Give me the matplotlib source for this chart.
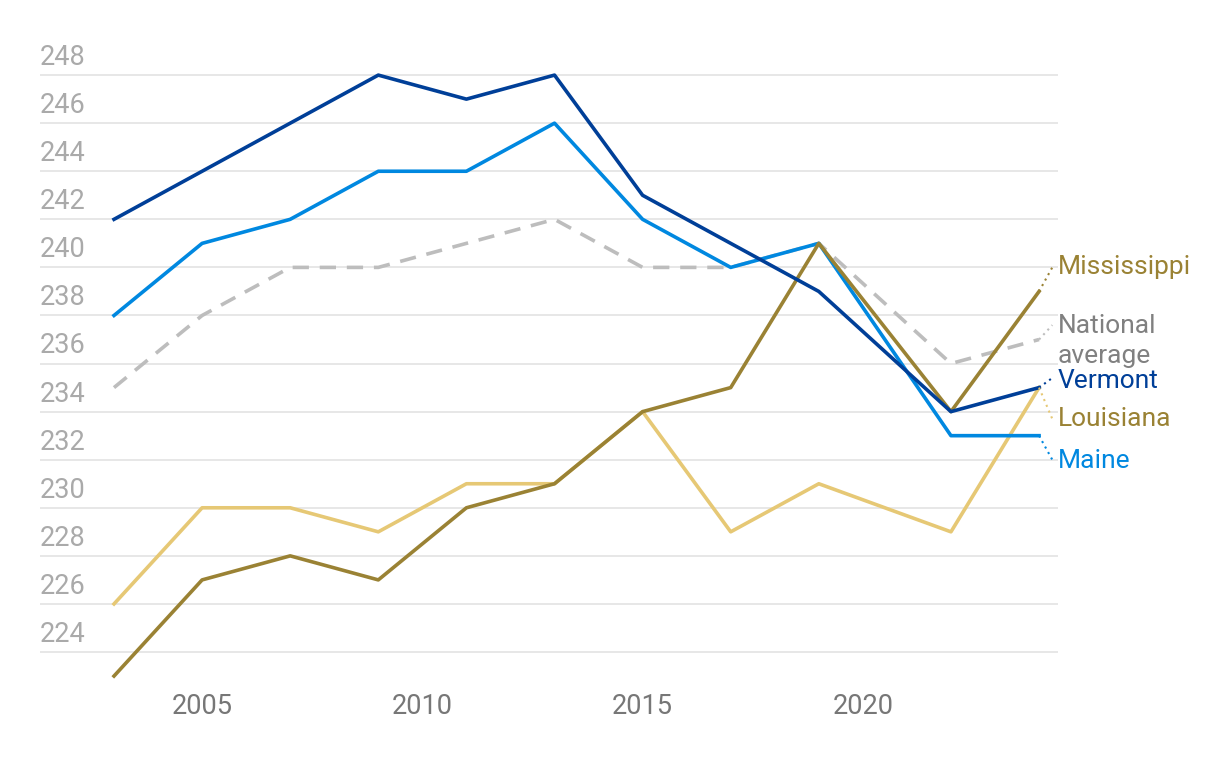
import matplotlib
matplotlib.use("Agg")
import matplotlib.pyplot as plt
from matplotlib.font_manager import fontManager

# NAEP-like scores by year
years = [2003, 2005, 2007, 2009, 2011, 2013, 2015, 2017, 2019, 2022, 2024]
vermont = [242, 244, 246, 248, 247, 248, 243, 241, 239, 234, 235]
maine = [238, 241, 242, 244, 244, 246, 242, 240, 241, 233, 233]
national = [235, 238, 240, 240, 241, 242, 240, 240, 241, 236, 237]
mississippi = [223, 227, 228, 227, 230, 231, 234, 235, 241, 234, 239]
louisiana = [226, 230, 230, 229, 231, 231, 234, 229, 231, 229, 235]

y_ticks = list(range(224, 250, 2))
x_ticks = [2005, 2010, 2015, 2020]

names = {f.name for f in fontManager.ttflist}
fam = [f for f in ["Liberation Sans Narrow", "Roboto", "DejaVu Sans"] if f in names]
plt.rcParams["font.family"] = fam

c_vt = "#003f98"
c_me = "#0088e0"
c_nat = "#bdbdbd"
c_ms = "#9a8234"
c_la = "#e6c875"

fig = plt.figure(figsize=(12.2, 7.62), dpi=100)
ax = fig.add_axes([40 / 1220, 1 - 690 / 762, 1018 / 1220, 650 / 762])
ax.set_xlim(2001.32, 2024.43)
ax.set_ylim(222.42, 249.46)

for v in y_ticks:
    ax.axhline(v, color="#e3e3e3", lw=1.2, zorder=0)
    ax.text(0, v + 0.17, str(v), transform=ax.get_yaxis_transform(),
            ha="left", va="bottom", fontsize=19.5, color="#aaaaaa")

lw = 2.6
ax.plot(years, louisiana, color=c_la, lw=lw)
ax.plot(years, national, color=c_nat, lw=lw, dashes=(4.5, 3))
ax.plot(years, maine, color=c_me, lw=lw)
ax.plot(years, mississippi, color=c_ms, lw=lw)
ax.plot(years, vermont, color=c_vt, lw=lw)

# end labels with dotted leaders
labels = [
    ("Mississippi", mississippi[-1], 240.0, 240.0, c_ms, c_ms),
    ("National\naverage", national[-1], 237.6, 236.95, c_nat, "#808080"),
    ("Vermont", vermont[-1], 235.4, 235.28, c_vt, c_vt),
    ("Louisiana", louisiana[-1], 233.7, 233.7, c_la, c_ms),
    ("Maine", maine[-1], 232.0, 231.95, c_me, c_me),
]
for text, y0, y1, yt, lc, tc in labels:
    ax.plot([years[-1], 2024.3], [y0, y1], color=lc, lw=1.5, ls=(0, (1, 2)), clip_on=False)
    ax.text(2024.43, yt, text, ha="left", va="center", fontsize=19, color=tc,
            linespacing=1.3, clip_on=False)

ax.set_xticks(x_ticks)
ax.set_xticklabels([str(x) for x in x_ticks], fontsize=19.5, color="#777777")
ax.tick_params(axis="x", length=0, pad=2)
ax.set_yticks([])
for s in ax.spines.values():
    s.set_visible(False)

fig.savefig("out.png", dpi=100)
